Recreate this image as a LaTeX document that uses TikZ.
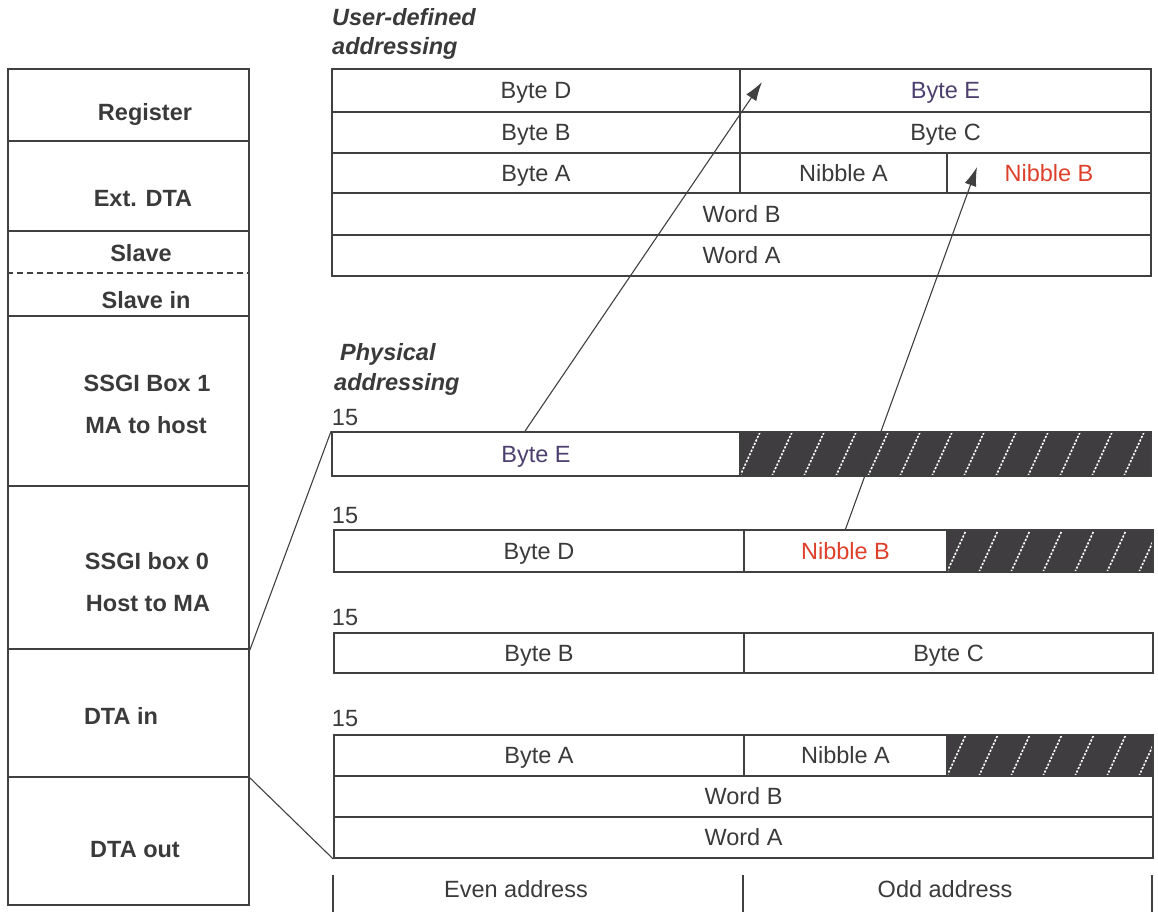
\documentclass[tikz,border=0pt]{standalone}
\usepackage{fontspec}
\setmainfont{Liberation Sans}
\usepackage{tikz}
\usetikzlibrary{arrows.meta}
\definecolor{cLine}{HTML}{404040}
\definecolor{cText}{HTML}{3A3A3A}
\definecolor{cByteE}{HTML}{4D3F6E}
\definecolor{cNibB}{HTML}{DE402B}
\definecolor{cHatch}{HTML}{3F3D40}
\newcommand{\fs}{\fontsize{23.5}{27}\selectfont}
\tikzset{
  cell/.style={draw=cLine, line width=1.8pt, rectangle, inner sep=0pt, font=\fs, text=cText,
    text height=16.8pt, text depth=0pt},
  hatchcell/.style={cell, fill=cHatch, path picture={
      \foreach \k in {-1,...,13}
        \draw[white, line width=1.6pt, dash pattern=on 2.2pt off 1.6pt]
          ([xshift=\k*32pt]path picture bounding box.south west) -- ++(21pt,46pt);}},
  lbl/.style={font=\fs\bfseries, text=cText, inner sep=0pt, text height=16.8pt, text depth=0pt},
  title/.style={font=\fs\bfseries\itshape, text=cText, inner sep=0pt, anchor=west,
    text height=16.8pt, text depth=0pt},
  num/.style={font=\fs, text=cText, inner sep=0pt, text height=16.8pt, text depth=0pt},
  zoomline/.style={cLine, line width=1.1pt},
  mapto/.style={cLine, line width=1.1pt, -{Latex[length=19pt,width=12pt]}},
}
% cell from corner (x1,y1) to corner (x2,y2), pixel units
\newcommand{\cellbox}[7][cell]{\node[#1, minimum width={(#5)-(#3)}, minimum height={(#6)-(#4)}] (#2) at ({((#3)+(#5))/2},{((#4)+(#6))/2}) {#7};}
\begin{document}
\begin{tikzpicture}[x=1pt, y=-1pt]
\useasboundingbox (0,0) rectangle (1158,912);
% left column
\cellbox{reg}{8}{69}{249}{141}{}
\cellbox{ext}{8}{141}{249}{231}{}
\cellbox{slave}{8}{231}{249}{316}{}
\cellbox{ssgiA}{8}{316}{249}{486}{}
\cellbox{ssgiB}{8}{486}{249}{649}{}
\cellbox{dtain}{8}{649}{249}{777}{}
\cellbox{dtaout}{8}{777}{249}{905}{}
\draw[cLine, line width=1.6pt, dash pattern=on 6pt off 4pt] (slave.west |- 0,273) -- (slave.east |- 0,273);
\node[lbl] (tReg) at (145,112) {Register};
\node[lbl] (tExt) at (143,198) {Ext. DTA};
\node[lbl] (tSlave) at (141,253) {Slave};
\node[lbl] (tSlaveIn) at (146,300) {Slave in};
\node[lbl] (tBox1) at (147,383) {SSGI Box 1};
\node[lbl] (tMAhost) at (146,425) {MA to host};
\node[lbl] (tBox0) at (147,561) {SSGI box 0};
\node[lbl] (tHostMA) at (148,603) {Host to MA};
\node[lbl] (tDtaIn) at (121,716) {DTA in};
\node[lbl] (tDtaOut) at (135,849) {DTA out};

% user-defined addressing
\node[title] (tUser1) at (332,17) {User-defined};
\node[title] (tUser2) at (332,46) {addressing};
\cellbox{uD}{332}{69}{740}{112}{Byte D}
\cellbox{uE}{740}{69}{1151}{112}{\textcolor{cByteE}{Byte E}}
\cellbox{uB}{332}{112}{740}{153}{Byte B}
\cellbox{uC}{740}{112}{1151}{153}{Byte C}
\cellbox{uA}{332}{153}{740}{193}{Byte A}
\cellbox{uNA}{740}{153}{947}{193}{Nibble A}
\cellbox{uNB}{947}{153}{1151}{193}{\textcolor{cNibB}{Nibble B}}
\cellbox{uWB}{332}{193}{1151}{235}{Word B}
\cellbox{uWA}{332}{235}{1151}{276}{Word A}

% physical addressing
\node[title] (tPhys1) at (340,352) {Physical};
\node[title] (tPhys2) at (334,382) {addressing};
\node[num] (n1) at (345,417) {15};
\cellbox{pE}{332}{432}{740}{476}{\textcolor{cByteE}{Byte E}}
\cellbox[hatchcell]{pH1}{740}{432}{1151}{476}{}
\node[num] (n2) at (345,515) {15};
\cellbox{pD}{334}{530}{744}{572}{Byte D}
\cellbox{pNB}{744}{530}{947}{572}{\textcolor{cNibB}{Nibble B}}
\cellbox[hatchcell]{pH2}{947}{530}{1153}{572}{}
\node[num] (n3) at (345,617) {15};
\cellbox{pB}{334}{633}{744}{673}{Byte B}
\cellbox{pC}{744}{633}{1153}{673}{Byte C}
\node[num] (n4) at (345,718) {15};
\cellbox{pA}{334}{735}{744}{776}{Byte A}
\cellbox{pNA}{744}{735}{947}{776}{Nibble A}
\cellbox[hatchcell]{pH3}{947}{735}{1153}{776}{}
\cellbox{pWB}{334}{776}{1153}{817}{Word B}
\cellbox{pWA}{334}{817}{1153}{858}{Word A}

% address ruler
\draw[cLine, line width=1.1pt] (333,875) -- (333,912);
\draw[cLine, line width=1.1pt] (743,875) -- (743,912);
\draw[cLine, line width=1.1pt] (1152,875) -- (1152,912);
\node[num] (tEven) at (516,889) {Even address};
\node[num] (tOdd) at (945,889) {Odd address};

% zoom lines and mapping arrows
\draw[zoomline] (ssgiB.south east) -- (pE.north west);
\draw[zoomline] (dtain.south east) -- (pWA.south west);
\coordinate (tipE) at (762,82);
\coordinate (tipNB) at (977,167);
\draw[mapto] ([xshift=-11pt]pE.north) -- (tipE);
\draw[mapto] (pNB.north) -- (tipNB);
\end{tikzpicture}
\end{document}
